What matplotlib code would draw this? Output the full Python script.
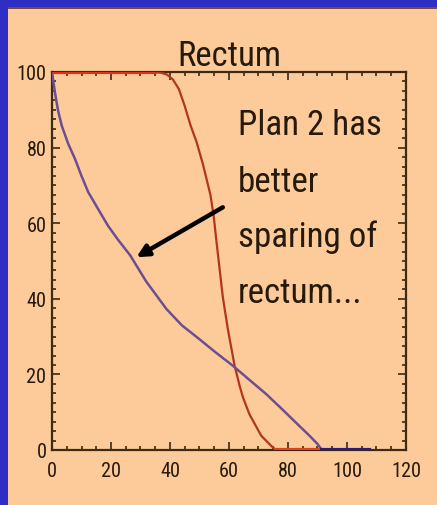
import matplotlib
matplotlib.use("Agg")
import matplotlib.pyplot as plt
import numpy as np
from matplotlib.patches import Rectangle
from matplotlib.ticker import MultipleLocator
from matplotlib import font_manager

# Dose-volume histogram for the rectum (dose in Gy, volume in %)
plan1_dose = [0, 35, 37, 39, 41, 43, 45, 47, 49, 51.2, 53.7, 54.8, 55.7, 57.9, 59.6,
              61.9, 63.6, 64.7, 66.9, 70.9, 74.8, 76, 91]
plan1_volume = [100, 100, 99.8, 99.3, 98, 95.5, 91, 85.8, 81.5, 75.5, 67.5, 62, 55.5, 40.5, 32,
                22.3, 17, 14, 9.5, 3.8, 0.7, 0, 0]

plan2_dose = [0, 1, 2, 3.3, 5.5, 7.8, 10, 12.3, 16.2, 19, 22.5, 26.5, 32, 38.8, 44, 50,
              55.5, 61.3, 67, 72.6, 78, 83.8, 87, 90, 91.5, 107.5]
plan2_volume = [100, 94.6, 90, 85.8, 81, 77, 72.5, 68.2, 63, 59.3, 55.5, 51.5, 44.5, 37.3, 33,
                29.3, 25.8, 22.3, 18.5, 14.8, 10.8, 6.4, 4, 1.6, 0, 0]

x_ticks = [0, 20, 40, 60, 80, 100, 120]
y_ticks = [0, 20, 40, 60, 80, 100]

title_text = "Rectum"
note_lines = ["Plan 2 has", "better", "sparing of", "rectum..."]
arrow_tail = (57.9, 64.2)
arrow_head = (28.6, 51.0)


def pick_narrow_font():
    """Return a FontProperties for a condensed sans face, if one is installed."""
    cands = []
    for f in font_manager.fontManager.ttflist:
        name = f.name.lower()
        stretch = str(f.stretch).lower()
        if "mono" in name or ("serif" in name and "sans" not in name):
            continue
        if f.style != "normal":
            continue
        narrowish = ("narrow" in name or "condensed" in name or "condensed" in stretch
                     or stretch in ("semi-condensed", "extra-condensed"))
        if narrowish:
            w = f.weight if isinstance(f.weight, int) else 400
            if "liberation" in name or "arimo" in name:
                score = 0
            elif "roboto" in name:
                score = 1
            elif "semi" in stretch or "semi" in name:
                score = 3
            else:
                score = 2
            cands.append((score, abs(w - 400), f.fname))
    if cands:
        cands.sort()
        return font_manager.FontProperties(fname=cands[0][2])
    return font_manager.FontProperties(family="Liberation Sans")


base_font = pick_narrow_font()

W, H, DPI = 437, 506, 100
bg = "#FDCB9A"
ink = "#261A0C"
axis_col = "#3C2A14"

fig = plt.figure(figsize=(W / DPI, H / DPI), dpi=DPI, facecolor=bg)
renderer = fig.canvas.get_renderer()


def fitted(sample, width_px, start=20.0):
    """Font properties whose rendering of `sample` spans about width_px pixels."""
    fp = base_font.copy()
    fp.set_size(start)
    t = fig.text(0, 0, sample, fontproperties=fp)
    w = t.get_window_extent(renderer).width
    t.remove()
    fp.set_size(start * width_px / w)
    return fp


# blue frame along the top and left edges
fig.patches.append(Rectangle((0, 0), 8 / W, 1, transform=fig.transFigure,
                             facecolor="#2E2EC4", edgecolor="none", zorder=0))
fig.patches.append(Rectangle((0, 1 - 8 / H), 1, 8 / H, transform=fig.transFigure,
                             facecolor="#2E2EC4", edgecolor="none", zorder=0))
fig.patches.append(Rectangle((8 / W, 1 - 9.5 / H), 1, 1.5 / H, transform=fig.transFigure,
                             facecolor="#7A4A3A", edgecolor="none", zorder=0))

ax_l, ax_r, ax_t, ax_b = 52, 406, 73, 451
ax = fig.add_axes([ax_l / W, 1 - ax_b / H, (ax_r - ax_l) / W, (ax_b - ax_t) / H])
ax.set_facecolor(bg)

p1x = np.array(plan1_dose)
p1y = np.array(plan1_volume)
p2x = np.array(plan2_dose)
p2y = np.array(plan2_volume)

ax.plot(p1x, p1y, color="#B0361E", lw=1.6, zorder=3, solid_capstyle="round")
top = p1y >= 100
ax.plot(p1x[top], p1y[top], color="#E2301C", lw=3.0, zorder=4)
bot = p1y <= 0
ax.plot(p1x[bot], p1y[bot], color="#E2401C", lw=3.0, zorder=4)

ax.plot(p2x, p2y, color="#6E4E92", lw=1.8, zorder=3, solid_capstyle="round")
bot2 = p2y <= 0
ax.plot(p2x[bot2], p2y[bot2], color="#2C1A80", lw=3.0, zorder=5)

ax.set_xlim(0, 120)
ax.set_ylim(0, 100)
ax.set_xticks(x_ticks)
ax.set_yticks(y_ticks)
ax.xaxis.set_minor_locator(MultipleLocator(5))
ax.yaxis.set_minor_locator(MultipleLocator(2.5))
ax.tick_params(which="both", direction="in", top=True, right=True,
               color=axis_col, width=1.2)
ax.tick_params(which="major", length=6)
ax.tick_params(which="minor", length=3)
ax.tick_params(axis="x", pad=8)
ax.tick_params(axis="y", pad=4)
tick_font = fitted("100", 30)
tick_font.set_weight("medium")
for lab in ax.get_xticklabels() + ax.get_yticklabels():
    lab.set_fontproperties(tick_font)
    lab.set_color(ink)
for s in ax.spines.values():
    s.set_color(axis_col)
    s.set_linewidth(1.6)

title_font = fitted(title_text, 104)
ax.set_title(title_text, fontproperties=title_font, color=ink, pad=4)

note_font = fitted(note_lines[0], 144)
baselines = [135, 192, 247, 303]
for line, by in zip(note_lines, baselines):
    ax.text((238 - ax_l) / (ax_r - ax_l), (ax_b - by) / (ax_b - ax_t), line,
            transform=ax.transAxes, fontproperties=note_font, color=ink,
            va="baseline", ha="left")

ax.annotate("", xy=arrow_head, xytext=arrow_tail,
            arrowprops=dict(arrowstyle="-|>,head_length=0.7,head_width=0.35",
                            color="black", lw=3.2, shrinkA=0, shrinkB=0),
            zorder=6)

fig.savefig("out.png", dpi=DPI, facecolor=bg)
